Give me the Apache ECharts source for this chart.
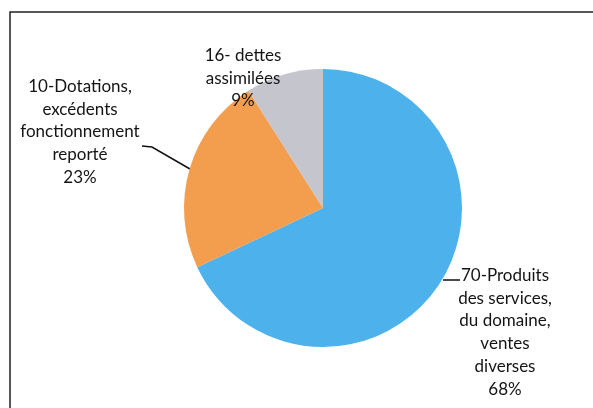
<!DOCTYPE html>
<html>
<head>
<meta charset="utf-8">
<script src="https://cdn.jsdelivr.net/npm/echarts@6/dist/echarts.min.js"></script>
<style>
  html, body { margin: 0; padding: 0; background: #fff; }
  #chart { width: 593px; height: 408px; }
</style>
</head>
<body>
<div id="chart"></div>
<script>
// données du camembert (sens horaire depuis midi)
const categories = [
  '70-Produits\ndes services,\ndu domaine,\nventes\ndiverses',
  '10-Dotations,\nexcédents\nfonctionnement\nreporté',
  '16- dettes\nassimilées'
]
const values = [68, 23, 9]
const colors = ['#4DB2EB', '#F39D4E', '#C4C5CD']

// position des étiquettes (centre haut de chaque bloc de texte)
const labelPos = [
  {x: 505, y: 264, line: [[443, 280], [460, 280]]},
  {x: 80, y: 75, line: [[142, 146], [152, 147], [190, 169]]},
  {x: 243, y: 44, line: null}
]

const chart = echarts.init(document.getElementById('chart'))

const option = {
  animation: false,
  color: colors,
  graphic: [
    {
      type: 'rect',
      shape: {x: 10, y: 12, width: 600, height: 420},
      style: {fill: 'none', stroke: '#222', lineWidth: 1.5},
      silent: true
    }
  ],
  series: [
    {
      type: 'pie',
      center: [323, 208],
      radius: [0, 139],
      startAngle: 90,
      clockwise: true,
      data: categories.map((name, i) => ({name: name, value: values[i]})),
      itemStyle: {borderWidth: 0},
      label: {
        show: true,
        position: 'outside',
        formatter: '{b}\n{d}%',
        fontFamily: 'Lato, "Open Sans", sans-serif',
        fontSize: 17,
        lineHeight: 22.8,
        color: '#141414',
        align: 'center'
      },
      labelLine: {
        show: true,
        lineStyle: {color: '#111', width: 1.5}
      },
      labelLayout: (params) => {
        const p = labelPos[params.dataIndex]
        const res = {
          x: p.x,
          y: p.y,
          align: 'center',
          verticalAlign: 'top'
        }
        if (p.line) res.labelLinePoints = p.line
        return res
      }
    }
  ]
}

// pas de trait pour la petite part grise
option.series[0].data[2].labelLine = {show: false}

chart.setOption(option)
</script>
</body>
</html>
